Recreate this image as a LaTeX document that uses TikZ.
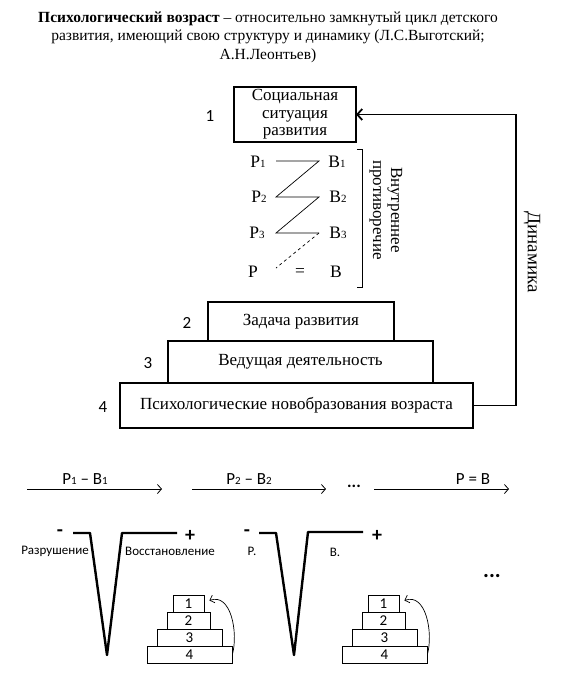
\documentclass[tikz,border=0pt]{standalone}
\usepackage{fontspec}
\setmainfont{Liberation Serif}
\newfontfamily\calib{Carlito}
\usetikzlibrary{arrows.meta,positioning}
\newcommand{\ix}[1]{{\fontsize{11}{11}\selectfont #1}}
\tikzset{
  stage/.style={draw,line width=1.6pt,inner sep=0pt,outer sep=0pt,font=\fontsize{17}{17.5}\selectfont,align=center},
  num/.style={font=\calib\fontsize{17}{17}\selectfont},
  pb/.style={font=\fontsize{17.5}{17.5}\selectfont},
  seq/.style={font=\calib\fontsize{17}{17}\selectfont},
  lbl/.style={font=\calib\fontsize{13}{13}\selectfont},
  sgn/.style={font=\calib\bfseries\fontsize{20}{20}\selectfont},
  brick/.style={draw,line width=0.8pt,inner sep=0pt,font=\calib\fontsize{15}{15}\selectfont},
  curve/.style={line width=2.4pt,line join=round},
  flow/.style={line width=0.8pt,-{Straight Barb[length=4pt,width=9pt]}},
}
\begin{document}
\begin{tikzpicture}[x=1pt,y=-1pt]
\useasboundingbox (0,0) rectangle (576,699);
% title
\node[font=\fontsize{15.5}{18.5}\selectfont,align=center] (title) at (268,37)
 {\textbf{Психологический возраст} – относительно замкнутый цикл детского\\
  развития, имеющий свою структуру и динамику (Л.С.Выготский;\\
  А.Н.Леонтьев)};
% structure of the age
\node[stage,minimum width=122pt,minimum height=55pt] (s1) at (295,114.5) {Социальная\\ситуация\\развития};
\node[stage,minimum width=186pt,minimum height=39pt] (s2) at (301,321.5) {Задача развития};
\node[stage,minimum width=265pt,minimum height=42pt] (s3) at (300.5,362) {Ведущая деятельность};
\node[stage,minimum width=353pt,minimum height=45pt] (s4) at (296.5,405.5) {Психологические новобразования возраста};
\node[num] (n1) at (210,116) {1};
\node[num] (n2) at (187,323) {2};
\node[num] (n3) at (148,363) {3};
\node[num] (n4) at (103,407) {4};
% inner contradiction
\node[pb] (p1) at (258,162) {Р\ix{1}};
\node[pb] (b1) at (337,162) {В\ix{1}};
\node[pb] (p2) at (259,197) {Р\ix{2}};
\node[pb] (b2) at (338,197) {В\ix{2}};
\node[pb] (p3) at (257,233) {Р\ix{3}};
\node[pb] (b3) at (338,233) {В\ix{3}};
\node[pb] (p4) at (253,272) {Р};
\node[pb] (eq) at (300,272) {=};
\node[pb] (b4) at (336,272) {В};
\coordinate (l1) at (276,161); \coordinate (r1) at (319,161);
\coordinate (l2) at (276,197); \coordinate (r2) at (319,197);
\coordinate (l3) at (276,233); \coordinate (r3) at (319,233);
\coordinate (l4) at (276,268);
\draw[line width=0.7pt] (l1) -- (r1) -- (l2) -- (r2) -- (l3) -- (r3);
\draw[line width=0.7pt,dashed] (r3) -- (l4);
\draw[line width=0.8pt] (357,149) -- (362,149) -- (362,287) -- (357,287);
\node[pb,rotate=-90,align=center,font=\fontsize{17}{18}\selectfont] (inner) at (386,210) {Внутреннее\\противоречие};
% dynamics
\draw[line width=1.8pt,-{Straight Barb[length=5pt,width=11pt]}] (s4.east) -- ++(43,0) coordinate (dc) |- (s1.east);
\node[rotate=-90,font=\fontsize{19}{19}\selectfont] (dyn) at (532,252) {Динамика};
% sequence of ages
\coordinate (a1) at (27,489);  \coordinate (a2) at (162,489);
\coordinate (a3) at (192,489); \coordinate (a4) at (326,489);
\coordinate (a5) at (374,489); \coordinate (a6) at (509,489);
\draw[flow] (a1) -- (a2);
\draw[flow] (a3) -- (a4);
\draw[flow] (a5) -- (a6);
\node[seq] (q1) at (85,479) {Р\ix{1} – В\ix{1}};
\node[seq] (q2) at (249,479) {Р\ix{2} – В\ix{2}};
\node[seq] (q3) at (473,479) {Р = В};
\node[seq,font=\calib\bfseries\fontsize{17}{17}\selectfont] (qd) at (354,486) {...};
% crises
\draw[curve] (73,533) -- (90,533) -- (107,655) -- (122,533) -- (177,533);
\draw[curve] (259,533) -- (276,533) -- (294,655) -- (308,532) -- (363,532);
\node[sgn] (m1) at (60,533) {-};
\node[sgn] (pl1) at (190,536) {+};
\node[sgn] (m2) at (247,533) {-};
\node[sgn] (pl2) at (377,536) {+};
\node[lbl] (d1) at (55,551) {Разрушение};
\node[lbl] (v1) at (170,551) {Восстановление};
\node[lbl] (d2) at (252,551) {Р.};
\node[lbl] (v2) at (335,552) {В.};
\node[sgn,font=\calib\bfseries\fontsize{22}{22}\selectfont] (more) at (492,576) {...};
% small pyramids
\foreach \dx/\k in {0/a,195/b}{
  \node[brick,minimum width=31pt,minimum height=17pt] (\k1) at (188.5+\dx,603.5) {1};
  \node[brick,minimum width=43pt,minimum height=17pt] (\k2) at (188.5+\dx,620.5) {2};
  \node[brick,minimum width=65pt,minimum height=17pt] (\k3) at (189.5+\dx,637.5) {3};
  \node[brick,minimum width=85pt,minimum height=17pt] (\k4) at (189.5+\dx,654.5) {4};
  \draw[line width=0.7pt,-{Straight Barb[length=4pt,width=8pt]}] (\k4.east) to[out=75,in=20] ([xshift=5pt,yshift=3pt]\k1.east);
}
\end{tikzpicture}
\end{document}
